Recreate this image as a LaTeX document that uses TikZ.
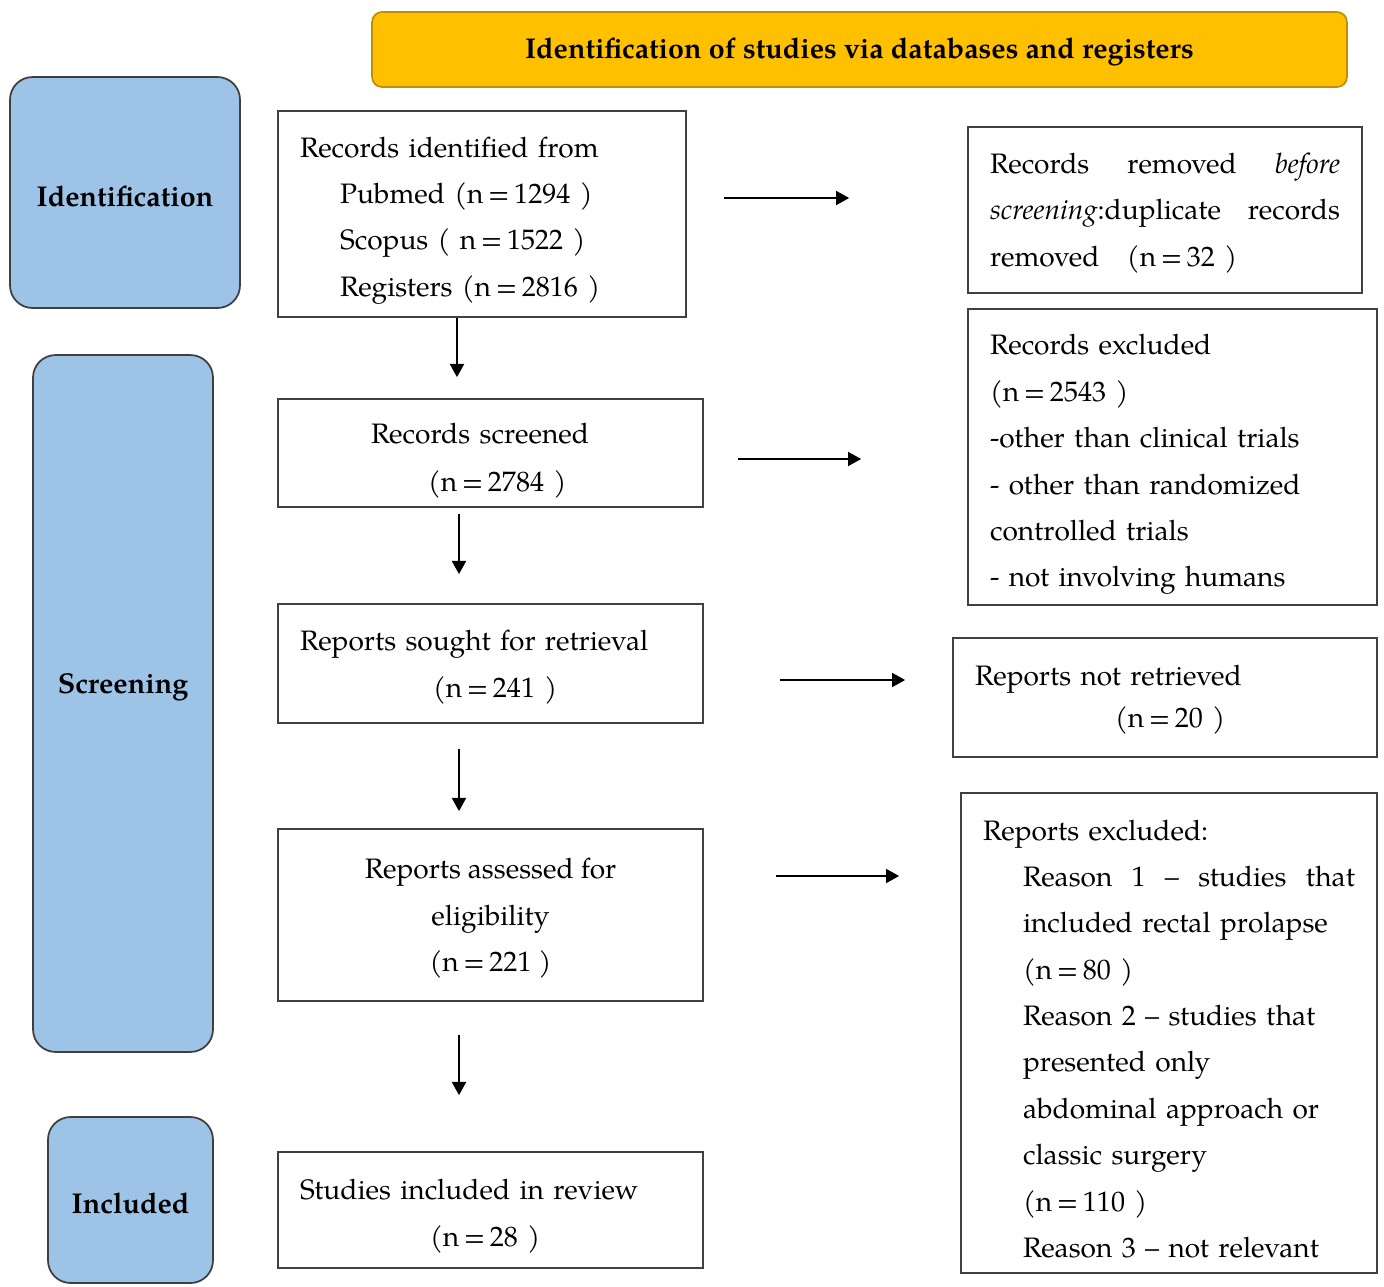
\documentclass[tikz,border=0pt]{standalone}
\usepackage{fontspec}
\setmainfont{TeX Gyre Pagella}
\usetikzlibrary{arrows.meta,positioning}
\definecolor{phblue}{HTML}{9DC3E6}
\definecolor{phline}{HTML}{3F3F3F}
\definecolor{hdgold}{HTML}{FFC000}
\definecolor{hdline}{HTML}{BF9000}
\definecolor{bxline}{HTML}{404040}
% strut that pushes the first line of a box down a little
\newcommand{\tp}[1]{\rule{0pt}{#1}}
\newcommand{\nn}[1]{(n\,=\,#1 )}

\begin{document}
\begin{tikzpicture}[>={Triangle[length=7.5pt,width=8pt]},x=0.02cm,y=-0.02cm,
    txt/.style={font=\fontsize{16pt}{26.4pt}\selectfont},
    headbox/.style={draw=hdline,fill=hdgold,line width=1pt,rounded corners=0.2cm,
      minimum width=19.5cm,minimum height=1.5cm,font=\fontsize{16.3pt}{18pt}\selectfont\bfseries},
    phase/.style={draw=phline,fill=phblue,line width=1pt,rounded corners=0.45cm,
      font=\fontsize{16.3pt}{18pt}\selectfont\bfseries},
    flowbox/.style={txt,draw=bxline,fill=white,line width=1pt,inner xsep=0.44cm,inner ysep=0pt},
    arr/.style={->,line width=1pt}]

  \useasboundingbox (0,0) rectangle (1384,1286);

  % ---------------------------------------------------------------
  % Header and phase labels
  % ---------------------------------------------------------------
  \node[headbox] (head) at (859.5,49.5) {\tp{15pt}Identification of studies via databases and registers};

  \node[phase,minimum width=4.6cm,minimum height=4.62cm] (idph) at (125,192.5) {\tp{16pt}Identification};
  \node[phase,minimum width=3.6cm,minimum height=13.94cm] (scph) at (123,703.5) {\raisebox{0.8cm}{Screening}};
  \node[phase,minimum width=3.3cm,minimum height=3.32cm] (inph) at (130.5,1200) {\tp{16pt}Included};

  % ---------------------------------------------------------------
  % Main column
  % ---------------------------------------------------------------
  \node[flowbox,minimum width=8.16cm,minimum height=4.12cm,text width=7.28cm,align=left] (rec) at (482,214)
        {\tp{19pt}Records identified from\\
         \hspace*{0.8cm}Pubmed \nn{1294}\\
         \hspace*{0.8cm}Scopus ( n\,=\,1522 )\\
         \hspace*{0.8cm}Registers \nn{2816}};

  \node[flowbox,minimum width=8.5cm,minimum height=2.16cm,text width=7.62cm,align=left,
        font=\fontsize{16pt}{27.2pt}\selectfont] (scr) at (490.5,453)
        {\tp{20.5pt}\hspace*{1.42cm}Records screened\\ \hspace*{2.56cm}\nn{2784}};

  \node[flowbox,minimum width=8.5cm,minimum height=2.38cm,text width=7.62cm,align=left] (sought) at (490.5,663.5)
        {\tp{16pt}Reports sought for retrieval\\ \hspace*{2.66cm}\nn{241}};

  \node[flowbox,minimum width=8.5cm,minimum height=3.44cm,align=center] (assess) at (490.5,915)
        {\tp{15.5pt}Reports assessed for\\ eligibility\\ \nn{221}};

  \node[flowbox,minimum width=8.5cm,minimum height=2.32cm,text width=7.62cm,align=left] (incl) at (490.5,1210)
        {\tp{18.7pt}Studies included in review\\ \hspace*{2.6cm}\nn{28}};

  % ---------------------------------------------------------------
  % Right column
  % ---------------------------------------------------------------
  \node[flowbox,minimum width=7.88cm,minimum height=3.32cm,text width=7.0cm,align=left] (removed) at (1165,210)
        {\tp{15pt}Records\hfill removed\hfill \textit{before}\\
         \textit{screening}:duplicate\hfill records\\
         removed\hspace{0.55cm}\nn{32}};

  \node[flowbox,minimum width=8.18cm,minimum height=5.92cm,text width=7.3cm,align=left] (excl) at (1172.5,457)
        {\tp{20.3pt}Records excluded\\ \nn{2543}\\ -other than clinical trials\\
         - other than randomized\\ controlled trials\\ - not involving humans};

  \node[flowbox,minimum width=8.48cm,minimum height=2.38cm,text width=7.6cm,align=left,
        font=\fontsize{16pt}{23.8pt}\selectfont] (notret) at (1165,697.5)
        {\tp{14pt}Reports not retrieved\\ \hspace*{2.8cm}\nn{20}};

  \node[flowbox,minimum width=8.32cm,minimum height=9.6cm,text width=7.44cm,align=left] (repexcl) at (1169,1033)
        {\tp{18.3pt}Reports excluded:\\
         \hspace*{0.8cm}Reason\hfill 1\hfill –\hfill studies\hfill that\\
         \hspace*{0.8cm}included rectal prolapse\\
         \hspace*{0.8cm}\nn{80}\\
         \hspace*{0.8cm}Reason 2 – studies that\\
         \hspace*{0.8cm}presented only\\
         \hspace*{0.8cm}abdominal approach or\\
         \hspace*{0.8cm}classic surgery\\
         \hspace*{0.8cm}\nn{110}\\
         \hspace*{0.8cm}Reason 3 – not relevant};

  % ---------------------------------------------------------------
  % Arrows (they float between the boxes)
  % ---------------------------------------------------------------
  \coordinate (down1) at (457,0);
  \coordinate (down)  at (459,0);
  \coordinate (lane1) at (0,198);
  \coordinate (lane2) at (0,459);
  \coordinate (lane3) at (0,680);
  \coordinate (lane4) at (0,876);

  \draw[arr,shorten >=0.42cm] (rec.south -| down1) -- (scr.north -| down1);
  \draw[arr,shorten <=0.12cm,shorten >=0.58cm] (scr.south -| down) -- (sought.north -| down);
  \draw[arr,shorten <=0.5cm,shorten >=0.34cm] (sought.south -| down) -- (assess.north -| down);
  \draw[arr,shorten <=0.66cm,shorten >=1.12cm] (assess.south -| down) -- (incl.north -| down);

  \draw[arr,shorten <=0.74cm,shorten >=2.36cm] (rec.east |- lane1) -- (removed.west |- lane1);
  \draw[arr,shorten <=0.68cm,shorten >=2.12cm] (scr.east |- lane2) -- (excl.west |- lane2);
  \draw[arr,shorten <=1.52cm,shorten >=0.94cm] (sought.east |- lane3) -- (notret.west |- lane3);
  \draw[arr,shorten <=1.44cm,shorten >=1.22cm] (assess.east |- lane4) -- (repexcl.west |- lane4);

\end{tikzpicture}
\end{document}
